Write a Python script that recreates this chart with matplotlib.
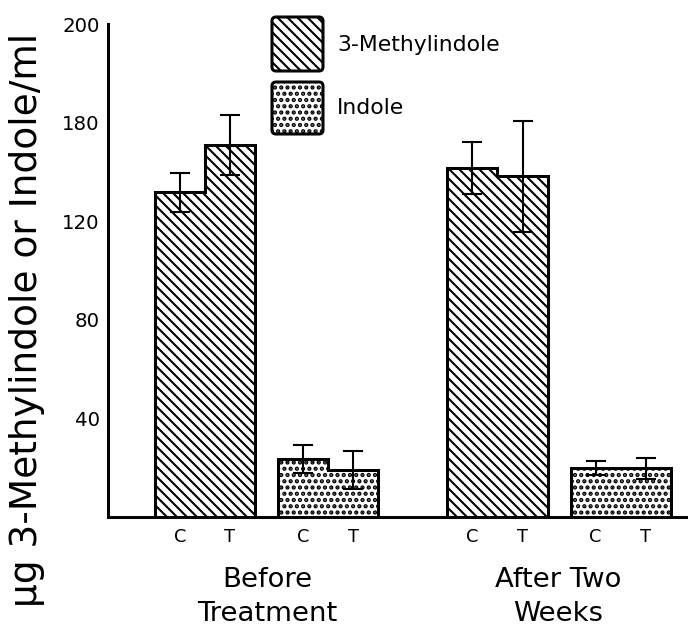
import matplotlib
matplotlib.use("Agg")
import matplotlib.pyplot as plt
from matplotlib.patches import FancyBboxPatch

# values (µg/ml)
groups = ["Before\nTreatment", "After Two\nWeeks"]
treatments = ["C", "T"]
methyl_mean = [131.7, 150.9, 141.7, 138.2]
methyl_err = [7.9, 12.2, 10.5, 22.5]
indole_mean = [23.5, 19.1, 19.8, 19.8]
indole_err = [5.7, 7.6, 2.9, 4.2]
yticks = [40, 80, 120, 160, 200]
ytick_labels = ["40", "80", "120", "180", "200"]

W, H, DPI = 688, 627, 150
HATCH_3MI, HATCH_IND = "\\" * 5, "." * 4
HLW = {HATCH_3MI: 1.0, HATCH_IND: 1.4}  # dots drawn a bit heavier
LW = 1.45


def fx(px):
    return px / W


def fy(py):
    return 1 - py / H


def pair(ax, pc, means, errs, hatch):
    xs = [pc - 0.5, pc + 0.5]
    with plt.rc_context({"hatch.linewidth": HLW[hatch]}):
        ax.bar(xs, means, width=1.0, color="white", edgecolor="black",
               linewidth=0, hatch=hatch, zorder=2)
    # one outline around both bars, no divider (as in the original)
    ox = [pc - 1, pc - 1, pc, pc, pc + 1, pc + 1]
    oy = [0, means[0], means[0], means[1], means[1], 0]
    ax.plot(ox, oy, color="black", lw=LW, solid_joinstyle="miter", zorder=3)
    ax.errorbar(xs, means, yerr=errs, fmt="none", ecolor="black",
                elinewidth=1.0, capsize=4.6, capthick=1.0, zorder=4)
    return xs


def main():
    plt.rcParams["hatch.linewidth"] = 1.0
    fig = plt.figure(figsize=(W / DPI, H / DPI), dpi=DPI)
    ax = fig.add_axes([fx(108), fy(517), 1 - fx(108), fy(24) - fy(517)])

    group_x = [3.17, 9.02]
    tick_x, tick_lab = [], []
    for g, gc in enumerate(group_x):
        sl = slice(2 * g, 2 * g + 2)
        tick_x += pair(ax, gc - 1.23, methyl_mean[sl], methyl_err[sl], HATCH_3MI)
        tick_lab += treatments
        tick_x += pair(ax, gc + 1.23, indole_mean[sl], indole_err[sl], HATCH_IND)
        tick_lab += treatments

    ax.set_xlim(0, 11.6)
    ax.set_ylim(0, 200)
    ax.set_xticks(tick_x, tick_lab, fontsize=8.5)
    ax.set_yticks(yticks, ytick_labels, fontsize=9.5)
    ax.tick_params(length=0)
    ax.tick_params(axis="x", pad=5.5)
    ax.tick_params(axis="y", pad=4)
    for s in ("top", "right"):
        ax.spines[s].set_visible(False)
    for s in ("left", "bottom"):
        ax.spines[s].set_linewidth(LW)
        ax.spines[s].set_capstyle("projecting")

    fig.text(fx(27), fy(320), "µg 3-Methylindole or Indole/ml", rotation=90,
             fontsize=18, ha="center", va="center")
    for lab, px in zip(groups, [267, 558]):
        fig.text(fx(px), fy(567), lab, fontsize=13.2, ha="center", va="top",
                 linespacing=1.38, multialignment="center")

    # legend drawn by hand, in pixels
    for (top, bot), hatch, lab, ty in [((17, 71), HATCH_3MI, "3-Methylindole", 45),
                                       ((82, 134), HATCH_IND, "Indole", 108)]:
        with plt.rc_context({"hatch.linewidth": HLW[hatch]}):
            p = FancyBboxPatch((272, H - bot), 51, bot - top,
                               boxstyle="round,pad=0,rounding_size=4",
                               facecolor="white", edgecolor="black", linewidth=LW,
                               hatch=hatch, transform=None)
        fig.add_artist(p)
        fig.text(fx(337), fy(ty), lab, fontsize=10.5, ha="left", va="center")

    fig.savefig("out.png", dpi=DPI, facecolor="white")
    plt.close(fig)


if __name__ == "__main__":
    main()
